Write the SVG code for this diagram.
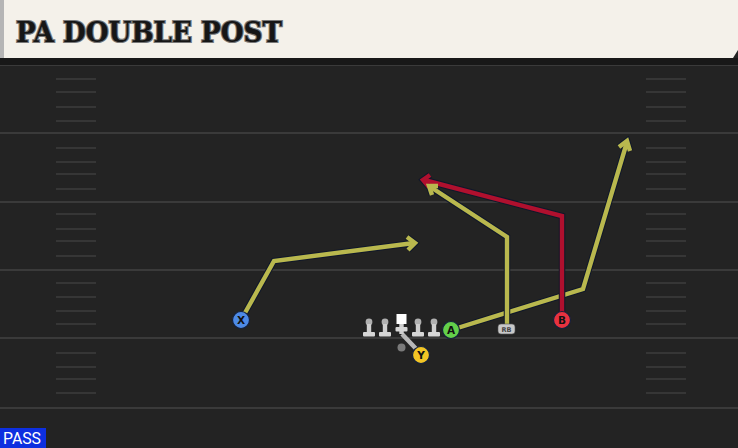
<svg xmlns="http://www.w3.org/2000/svg" width="738" height="448" viewBox="0 0 738 448">
<style>
.yl{fill:none;stroke:#10182a;stroke-width:6.5;stroke-linejoin:miter;stroke-linecap:butt}
.yc{fill:none;stroke:#b9b84e;stroke-width:4.4;stroke-linejoin:miter;stroke-linecap:butt}
.rc{fill:none;stroke:#b0102e;stroke-width:4.4;stroke-linejoin:miter;stroke-linecap:butt}
.fl{stroke:#3a3a3a;stroke-width:2}
.hm{stroke:#363636;stroke-width:2}
.lab{font-family:"DejaVu Sans","Liberation Sans",sans-serif;font-weight:bold;font-size:10.5px;text-anchor:middle;fill:#111}
</style>
<defs>
<g id="lineman"><circle cx="0" cy="-11" r="3.4" fill="#b0b0b0"/><rect x="-2.2" y="-9" width="4.4" height="9" fill="#cfcfcf"/><rect x="-6" y="-1" width="12" height="4.5" rx="1" fill="#d6d6d6"/></g>
</defs>
<rect width="738" height="448" fill="#232323"/>
<g id="field">
<line class="fl" x1="0" y1="65" x2="738" y2="65"/>
<line class="fl" x1="0" y1="133" x2="738" y2="133"/>
<line class="fl" x1="0" y1="202" x2="738" y2="202"/>
<line class="fl" x1="0" y1="270" x2="738" y2="270"/>
<line class="fl" x1="0" y1="338" x2="738" y2="338"/>
<line class="fl" x1="0" y1="408" x2="738" y2="408"/>
<g class="hm">
<path d="M56 79H96M56 92H96M56 107H96M56 121H96M56 148H96M56 162H96M56 174H96M56 189H96M56 214H96M56 229H96M56 241H96M56 256H96M56 283H96M56 297H96M56 311H96M56 324H96M56 353H96M56 367H96M56 379H96M56 393H96"/>
<path d="M646 79H686M646 92H686M646 107H686M646 121H686M646 148H686M646 162H686M646 174H686M646 189H686M646 214H686M646 229H686M646 241H686M646 256H686M646 283H686M646 297H686M646 311H686M646 324H686M646 353H686M646 367H686M646 379H686M646 393H686"/>
</g>
</g>
<g id="header">
<rect x="0" y="58" width="738" height="7" fill="#181818"/>
<polygon points="0,0 738,0 738,50 733,58 0,58" fill="#f4f1ea"/>
<rect x="0" y="0" width="4" height="58" fill="#b5b5b5"/>
<text x="16" y="42" font-family="'DejaVu Serif',serif" font-stretch="condensed" font-weight="bold" font-size="28" fill="#161616" stroke="#777" stroke-width="2.2" paint-order="stroke" textLength="266" lengthAdjust="spacingAndGlyphs">PA DOUBLE POST</text>
</g>
<g id="connectors">
<polyline class="yl" points="241,320 274,261 414,243"/>
<polyline class="yl" points="407,237 415,243 408,250"/>
<polyline class="yc" points="241,320 274,261 414,243"/>
<polyline class="yc" points="407,237 415,243 408,250"/>
<polyline class="yl" points="451,330 583,289 627,142"/>
<polyline class="yl" points="619,147 627,141 630,151"/>
<polyline class="yc" points="451,330 583,289 627,142"/>
<polyline class="yc" points="619,147 627,141 630,151"/>
<polyline class="yl" points="507,328 507,237 429,186"/>
<polyline class="yl" points="432,195 429,186 438,186"/>
<polyline class="yl" points="562,318 562,216 424,180"/>
<polyline class="yl" points="430,175 423,180 429,187"/>
<polyline class="rc" points="562,318 562,216 424,180"/>
<polyline class="rc" points="430,175 423,180 429,187"/>
<polyline class="yc" points="507,328 507,237 429,186"/>
<polyline class="yc" points="432,195 429,186 438,186"/>
<line x1="402" y1="334" x2="421" y2="354" stroke="#b8b8b8" stroke-width="4.5"/>
</g>
<g id="line">
<use href="#lineman" x="369" y="333"/>
<use href="#lineman" x="385" y="333"/>
<use href="#lineman" x="418" y="333"/>
<use href="#lineman" x="434" y="333"/>
</g>
<g id="center">
<rect x="396.5" y="314" width="10" height="10" fill="#ffffff"/>
<rect x="399.3" y="324" width="4.4" height="10" fill="#cfcfcf"/>
<rect x="395.5" y="327" width="12" height="4.5" rx="1" fill="#d6d6d6"/>
</g>
<g id="qb"><circle cx="401.5" cy="347.5" r="4" fill="#7a7a7a"/></g>
<g id="rb"><rect x="498" y="324" width="17" height="10" rx="3" fill="#c8c8c8" stroke="#555" stroke-width="0.6"/><text x="506.5" y="332" font-family="'DejaVu Sans',sans-serif" font-size="6.5" font-weight="bold" text-anchor="middle" fill="#444">RB</text></g>
<g id="x"><circle cx="241" cy="320" r="8.5" fill="#4d8ae6" stroke="#14213d" stroke-width="1.2"/><text class="lab" x="241" y="324">X</text></g>
<g id="a"><circle cx="451" cy="330" r="8.5" fill="#63d04a" stroke="#14213d" stroke-width="1.2"/><text class="lab" x="451" y="334">A</text></g>
<g id="b"><circle cx="562" cy="320" r="8.5" fill="#e8323f" stroke="#14213d" stroke-width="1.2"/><text class="lab" x="562" y="324">B</text></g>
<g id="y"><circle cx="421" cy="355" r="8.5" fill="#f2c525" stroke="#14213d" stroke-width="1.2"/><text class="lab" x="421" y="359">Y</text></g>
<g id="pass"><rect x="0" y="428" width="46" height="20" fill="#0d2fe0"/><text x="3" y="444" font-family="Roboto,'Liberation Sans',sans-serif" font-size="16" fill="#ffffff" textLength="38" lengthAdjust="spacingAndGlyphs">PASS</text></g>
</svg>
